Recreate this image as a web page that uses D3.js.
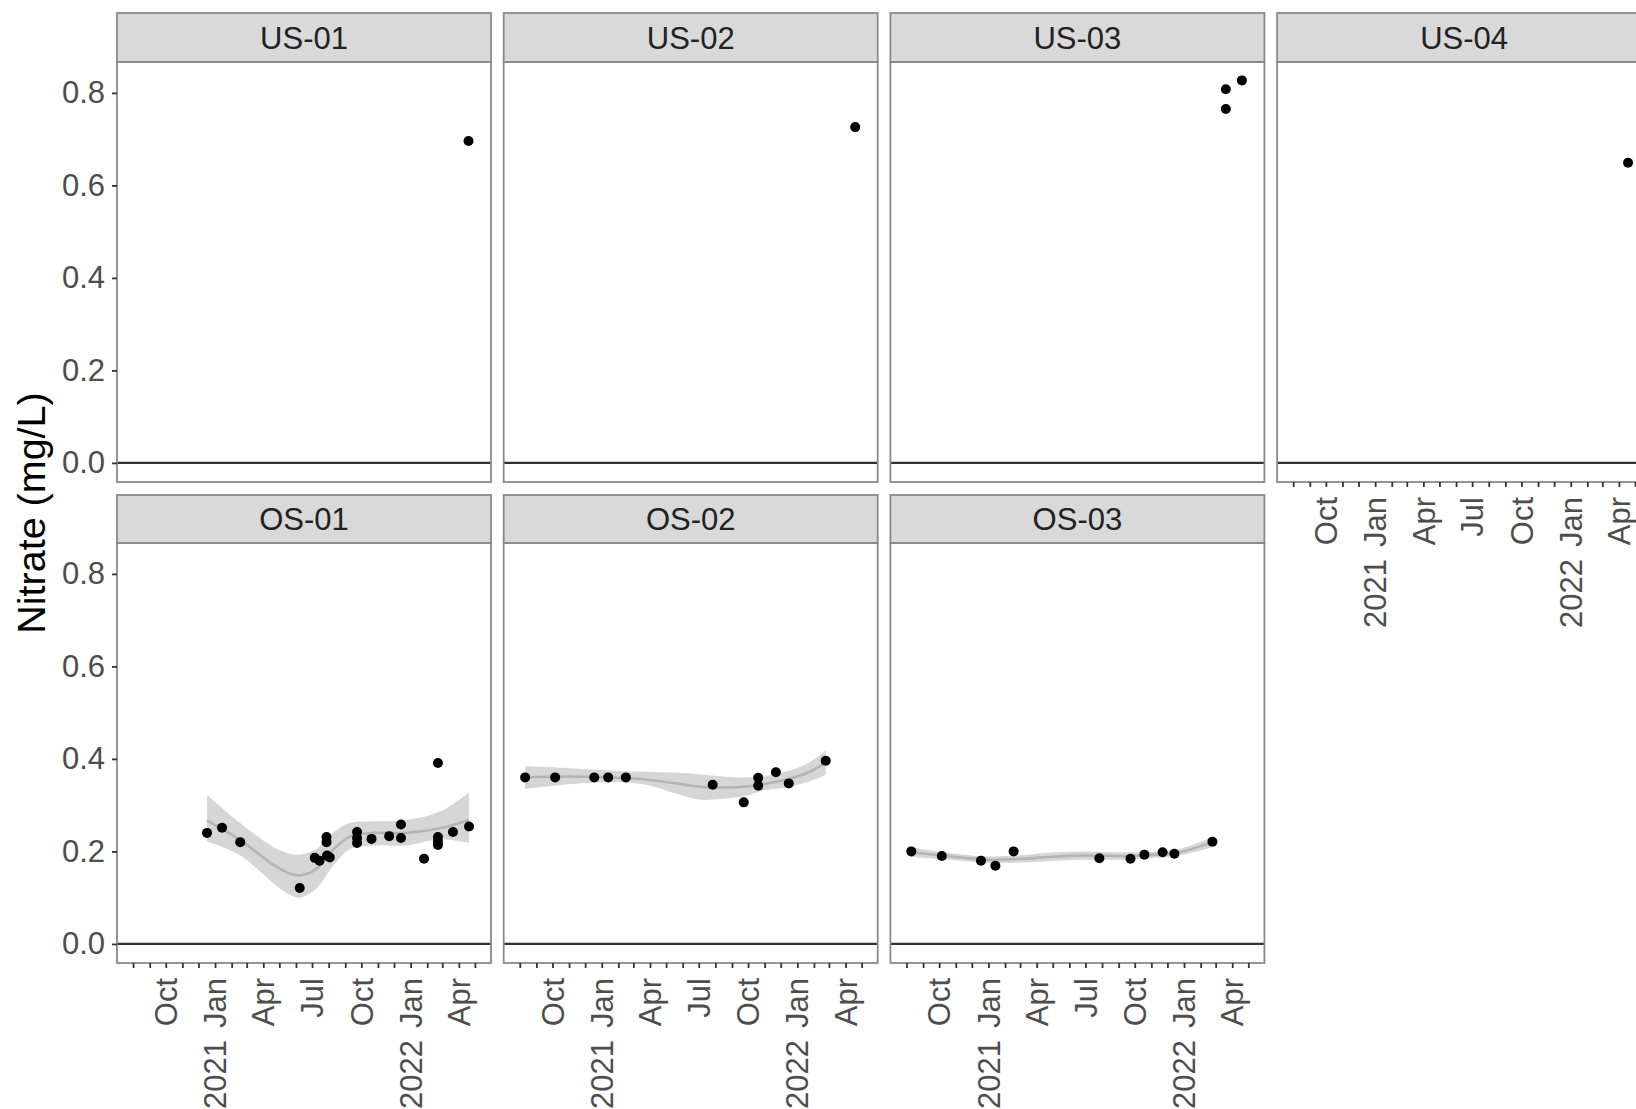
<!DOCTYPE html>
<html>
<head>
<meta charset="utf-8">
<script src="https://cdn.jsdelivr.net/npm/d3@7"></script>
<style>
  body { margin: 0; background: #fff; }
  text { font-family: "Liberation Sans", Arial, Helvetica, sans-serif; }
</style>
</head>
<body>
<div id="chart"></div>
<script>
var parse = d3.timeParse("%Y-%m-%d");

// ---- data ----
var sites = ["US-01", "US-02", "US-03", "US-04", "OS-01", "OS-02", "OS-03"];

var us01Dates = ["2022-04-19"];
var us01Values = [0.696];
var us02Dates = ["2022-04-19"];
var us02Values = [0.726];
var us03Dates = ["2022-03-20", "2022-03-20", "2022-04-19"];
var us03Values = [0.808, 0.765, 0.827];
var us04Dates = ["2022-04-18"];
var us04Values = [0.649];

var os01Dates = ["2020-12-17", "2021-01-14", "2021-02-17", "2021-06-08", "2021-07-06", "2021-07-15",
  "2021-07-28", "2021-07-28", "2021-07-29", "2021-08-03", "2021-09-23", "2021-09-23", "2021-09-23",
  "2021-10-20", "2021-11-22", "2021-12-14", "2021-12-14", "2022-01-26", "2022-02-21", "2022-02-21",
  "2022-02-21", "2022-02-21", "2022-03-21", "2022-04-20"];
var os01Values = [0.240, 0.251, 0.220, 0.121, 0.186, 0.180,
  0.231, 0.220, 0.191, 0.187, 0.242, 0.229, 0.218,
  0.227, 0.233, 0.258, 0.229, 0.184, 0.391, 0.231,
  0.222, 0.214, 0.242, 0.254];

var os02Dates = ["2020-08-11", "2020-10-06", "2020-12-18", "2021-01-13", "2021-02-15", "2021-07-27",
  "2021-09-23", "2021-10-20", "2021-10-20", "2021-11-22", "2021-12-16", "2022-02-23"];
var os02Values = [0.360, 0.360, 0.360, 0.360, 0.360, 0.344, 0.306, 0.359, 0.342, 0.371, 0.347, 0.396];

var os03Dates = ["2020-08-10", "2020-10-06", "2020-12-18", "2021-01-14", "2021-02-17", "2021-07-27",
  "2021-09-23", "2021-10-19", "2021-11-22", "2021-12-14", "2022-02-23"];
var os03Values = [0.200, 0.190, 0.180, 0.169, 0.200, 0.185, 0.184, 0.193, 0.198, 0.195, 0.221];

// loess fits with confidence band, read at a few dates
var os01SmoothDates = ["2020-12-17", "2021-02-16", "2021-04-19", "2021-05-20", "2021-06-08", "2021-07-09",
  "2021-08-09", "2021-09-10", "2021-10-23", "2021-12-25", "2022-02-25", "2022-04-20"];
var os01Fit = [0.267, 0.225, 0.172, 0.152, 0.148, 0.162, 0.203, 0.232, 0.240, 0.240, 0.250, 0.268];
var os01Lo = [0.222, 0.192, 0.132, 0.106, 0.100, 0.120, 0.168, 0.205, 0.213, 0.213, 0.226, 0.218];
var os01Hi = [0.322, 0.262, 0.210, 0.195, 0.193, 0.205, 0.240, 0.262, 0.265, 0.268, 0.286, 0.328];

var os02SmoothDates = ["2020-08-11", "2020-11-01", "2021-01-15", "2021-03-20", "2021-05-20", "2021-07-01",
  "2021-08-15", "2021-09-25", "2021-11-01", "2021-12-10", "2022-01-20", "2022-02-23"];
var os02Fit = [0.360, 0.362, 0.360, 0.356, 0.347, 0.340, 0.338, 0.340, 0.346, 0.355, 0.370, 0.392];
var os02Lo = [0.335, 0.345, 0.350, 0.345, 0.325, 0.312, 0.314, 0.320, 0.332, 0.338, 0.350, 0.365];
var os02Hi = [0.384, 0.380, 0.375, 0.372, 0.370, 0.367, 0.362, 0.360, 0.362, 0.372, 0.390, 0.418];

var os03SmoothDates = ["2020-08-10", "2020-10-31", "2021-01-02", "2021-03-05", "2021-05-07", "2021-07-08",
  "2021-09-08", "2021-11-10", "2021-12-23", "2022-02-23"];
var os03Fit = [0.198, 0.188, 0.182, 0.184, 0.189, 0.191, 0.190, 0.193, 0.198, 0.220];
var os03Lo = [0.188, 0.181, 0.175, 0.176, 0.180, 0.182, 0.182, 0.186, 0.191, 0.209];
var os03Hi = [0.209, 0.195, 0.189, 0.192, 0.198, 0.200, 0.198, 0.200, 0.205, 0.231];

var xLimits = ["2020-07-02", "2022-05-31"];
var yLimits = [-0.0413, 0.8668];
var yTicks = [0, 0.2, 0.4, 0.6, 0.8];
var yLabel = "Nitrate (mg/L)";

// ---- layout ----
var width = 1636,
    height = 1109,
    panelW = 374,
    panelH = 420,
    colX = [117, 503.7, 890.4, 1277.1],
    stripTop = [13, 495],
    stripH = [49, 48];

var pointSets = [
  [us01Dates, us01Values], [us02Dates, us02Values], [us03Dates, us03Values], [us04Dates, us04Values],
  [os01Dates, os01Values], [os02Dates, os02Values], [os03Dates, os03Values]
];
var smoothSets = {
  "OS-01": [os01SmoothDates, os01Fit, os01Lo, os01Hi],
  "OS-02": [os02SmoothDates, os02Fit, os02Lo, os02Hi],
  "OS-03": [os03SmoothDates, os03Fit, os03Lo, os03Hi]
};

var x = d3.scaleTime().domain(xLimits.map(parse)).range([0, panelW]);
var y = d3.scaleLinear().domain(yLimits).range([panelH, 0]);

var svg = d3.select("#chart").append("svg")
    .attr("width", width)
    .attr("height", height)
    .style("display", "block");

var area = d3.area()
    .curve(d3.curveCatmullRom.alpha(0.5))
    .x(function(d) { return x(d.date); })
    .y0(function(d) { return y(d.lo); })
    .y1(function(d) { return y(d.hi); });

var line = d3.line()
    .curve(d3.curveCatmullRom.alpha(0.5))
    .x(function(d) { return x(d.date); })
    .y(function(d) { return y(d.fit); });

var monthTicks = d3.timeMonth.range(x.domain()[0], x.domain()[1]);

sites.forEach(function(site, i) {
  var row = i < 4 ? 0 : 1,
      col = i < 4 ? i : i - 4,
      top = stripTop[row],
      sh = stripH[row];

  var g = svg.append("g")
      .attr("transform", "translate(" + colX[col] + "," + top + ")");

  // strip
  g.append("rect")
      .attr("width", panelW)
      .attr("height", sh)
      .attr("fill", "#d9d9d9")
      .attr("stroke", "#8a8a8a")
      .attr("stroke-width", 1.8);
  g.append("text")
      .attr("x", panelW / 2)
      .attr("y", sh / 2)
      .attr("dy", "0.36em")
      .attr("text-anchor", "middle")
      .attr("font-size", 31)
      .attr("fill", "#222")
      .text(site);

  var p = g.append("g").attr("transform", "translate(0," + sh + ")");

  p.append("clipPath").attr("id", "clip" + i)
    .append("rect").attr("width", panelW).attr("height", panelH);

  var body = p.append("g").attr("clip-path", "url(#clip" + i + ")");

  var sm = smoothSets[site];
  if (sm) {
    var sdata = sm[0].map(function(d, k) {
      return { date: parse(d), fit: sm[1][k], lo: sm[2][k], hi: sm[3][k] };
    });
    body.append("path")
        .datum(sdata)
        .attr("fill", "#d6d6d6")
        .attr("d", area);
    body.append("path")
        .datum(sdata)
        .attr("fill", "none")
        .attr("stroke", "#b4b4b4")
        .attr("stroke-width", 2.6)
        .attr("d", line);
  }

  body.append("line")
      .attr("x1", 0).attr("x2", panelW)
      .attr("y1", y(0)).attr("y2", y(0))
      .attr("stroke", "#333")
      .attr("stroke-width", 2.2);

  var pts = pointSets[i][0].map(function(d, k) {
    return { date: parse(d), value: pointSets[i][1][k] };
  });
  body.selectAll("circle")
      .data(pts)
      .enter().append("circle")
      .attr("cx", function(d) { return x(d.date); })
      .attr("cy", function(d) { return y(d.value); })
      .attr("r", 5)
      .attr("fill", "#000");

  p.append("rect")
      .attr("width", panelW)
      .attr("height", panelH)
      .attr("fill", "none")
      .attr("stroke", "#8a8a8a")
      .attr("stroke-width", 1.8);

  // y axis on first column
  if (col === 0) {
    var ya = p.append("g")
        .call(d3.axisLeft(y).tickValues(yTicks).tickFormat(d3.format(".1f")).tickSize(5).tickPadding(7));
    ya.select(".domain").remove();
    ya.selectAll(".tick line").attr("stroke", "#333").attr("stroke-width", 1.8);
    ya.selectAll(".tick text")
        .attr("font-size", 31)
        .attr("fill", "#4d4d4d")
        .attr("font-family", "Liberation Sans, Arial, sans-serif");
  }

  // x axis on panels with nothing below
  if (row === 1 || col === 3) {
    var xa = p.append("g")
        .attr("transform", "translate(0," + panelH + ")")
        .call(d3.axisBottom(x).tickValues(monthTicks).tickFormat("").tickSize(5));
    xa.select(".domain").remove();
    xa.selectAll(".tick line").attr("stroke", "#333").attr("stroke-width", 1.8);

    var labelled = monthTicks.filter(function(d) { return d.getMonth() % 3 === 0; });
    var lab = xa.selectAll(".mlab")
        .data(labelled)
        .enter().append("g")
        .attr("transform", function(d) { return "translate(" + x(d) + ",15) rotate(-90)"; });
    lab.append("text")
        .attr("text-anchor", "end")
        .attr("dy", "0.36em")
        .attr("font-size", 31)
        .attr("fill", "#4d4d4d")
        .text(d3.timeFormat("%b"));
    lab.filter(function(d) { return d.getMonth() === 0; })
      .append("text")
        .attr("x", -62)
        .attr("text-anchor", "end")
        .attr("dy", "0.36em")
        .attr("font-size", 31)
        .attr("fill", "#4d4d4d")
        .text(d3.timeFormat("%Y"));
  }
});

svg.append("text")
    .attr("transform", "translate(45,513) rotate(-90)")
    .attr("text-anchor", "middle")
    .attr("font-size", 39.5)
    .attr("fill", "#000")
    .text(yLabel);
</script>
</body>
</html>
